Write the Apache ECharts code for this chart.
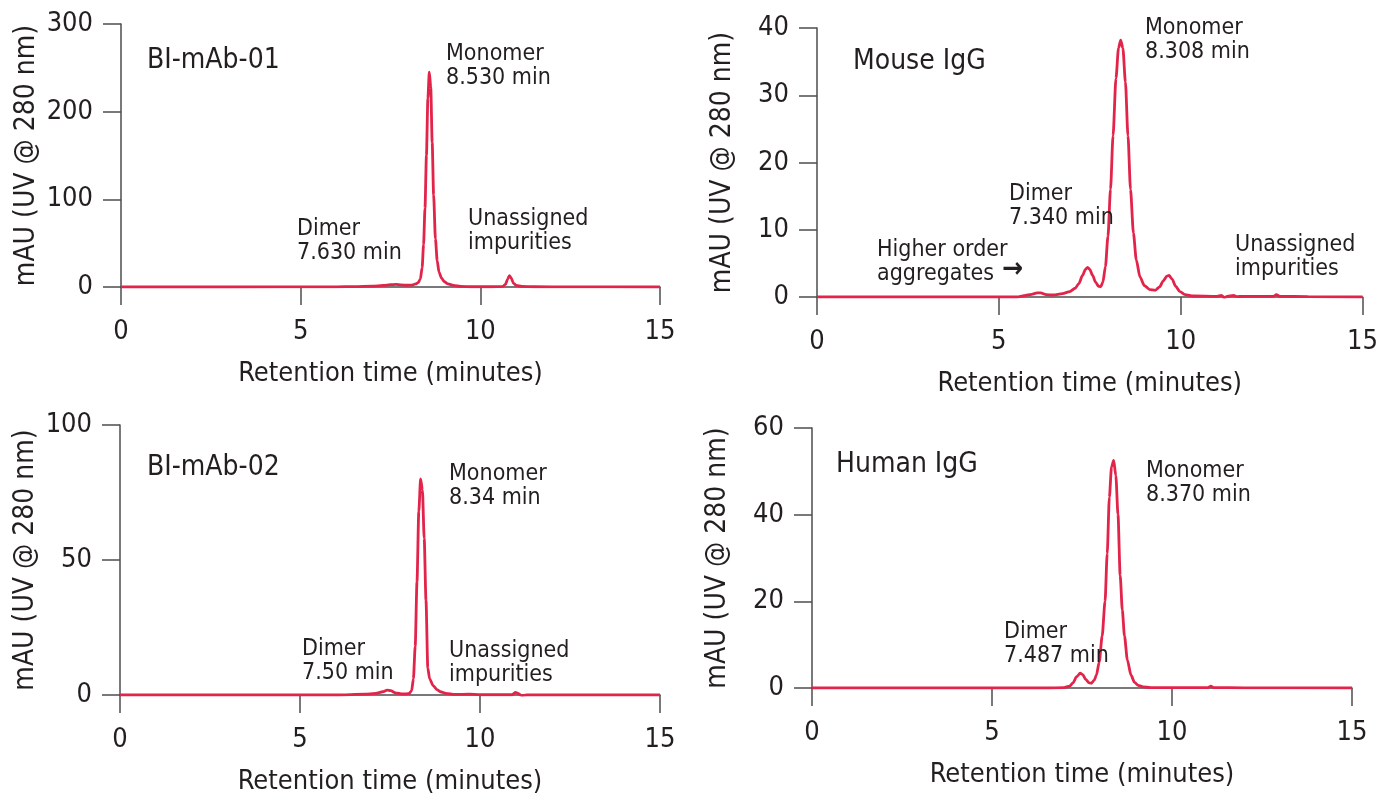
<!DOCTYPE html>
<html>
<head>
<meta charset="utf-8">
<script src="https://cdn.jsdelivr.net/npm/echarts@6/dist/echarts.min.js"></script>
<style>
html,body{margin:0;padding:0;background:#fff;}
#chart{width:1381px;height:796px;}
</style>
</head>
<body>
<div id="chart"></div>
<script>
// ---- Data ----
const xTicks = [0, 5, 10, 15];

// Panel A: BI-mAb-01
const mab01Time = [0, 3, 6, 6.5, 7.0, 7.3, 7.5, 7.65, 7.8, 7.95, 8.1, 8.2, 8.27, 8.33, 8.38, 8.42, 8.46, 8.5, 8.54, 8.58, 8.62, 8.66, 8.7, 8.75, 8.8, 8.85, 8.92, 9.0, 9.1, 9.25, 9.45, 9.8, 10.3, 10.62, 10.7, 10.76, 10.81, 10.86, 10.92, 11.0, 11.15, 11.5, 12.5, 15];
const mab01Signal = [0, 0, 0.2, 0.5, 1, 1.8, 2.6, 3, 2.5, 2, 2.2, 3.5, 5, 9, 22, 48, 90, 150, 215, 245, 228, 165, 105, 55, 30, 17, 10, 6, 3.5, 1.8, 0.7, 0.3, 0.3, 0.6, 3, 9, 13, 10, 4.5, 1.8, 0.6, 0.3, 0.1, 0];

// Panel B: Mouse IgG
const mouseTime = [0, 3, 5.5, 5.7, 5.9, 6.05, 6.15, 6.3, 6.5, 6.75, 6.95, 7.1, 7.2, 7.3, 7.38, 7.44, 7.5, 7.58, 7.66, 7.74, 7.8, 7.86, 7.93, 8.0, 8.07, 8.14, 8.22, 8.29, 8.35, 8.41, 8.48, 8.55, 8.62, 8.7, 8.78, 8.88, 9.0, 9.15, 9.3, 9.42, 9.52, 9.62, 9.68, 9.76, 9.86, 9.98, 10.12, 10.35, 11.0, 11.12, 11.2, 11.28, 11.45, 11.55, 11.7, 12.55, 12.63, 12.72, 13.5, 15];
const mouseSignal = [0, 0, 0, 0.2, 0.4, 0.6, 0.6, 0.35, 0.3, 0.5, 0.8, 1.3, 2.0, 3.2, 4.1, 4.4, 4.1, 3.2, 2.2, 1.6, 1.5, 2.2, 4.5, 9, 16, 24, 32.5, 37, 38.2, 37, 32, 24, 16, 9.5, 5.5, 3, 1.7, 1.1, 1.0, 1.5, 2.4, 3.1, 3.2, 2.7, 1.6, 0.8, 0.35, 0.15, 0.1, 0.25, -0.1, 0.1, 0.25, 0.05, 0.1, 0.1, 0.35, 0.1, 0.05, 0];

// Panel C: BI-mAb-02
const mab02Time = [0, 3, 6.0, 6.8, 7.1, 7.3, 7.42, 7.52, 7.65, 7.85, 8.02, 8.1, 8.15, 8.2, 8.25, 8.3, 8.35, 8.4, 8.45, 8.5, 8.55, 8.6, 8.7, 8.8, 8.9, 9.05, 9.3, 9.7, 10.0, 10.9, 10.98, 11.05, 11.15, 11.3, 12, 15];
const mab02Signal = [0, 0, 0, 0.3, 0.6, 1.2, 1.8, 1.6, 0.8, 0.4, 0.5, 1.5, 6, 18, 42, 68, 80, 76, 58, 35, 10, 6, 3.5, 2, 1.2, 0.6, 0.2, 0.3, 0.1, 0.1, 1.0, 0.6, -0.2, 0, 0, 0];

// Panel D: Human IgG
const humanTime = [0, 3, 6.5, 7.0, 7.15, 7.25, 7.35, 7.45, 7.52, 7.6, 7.7, 7.76, 7.84, 7.9, 7.98, 8.06, 8.14, 8.2, 8.26, 8.32, 8.38, 8.44, 8.5, 8.56, 8.62, 8.68, 8.76, 8.86, 8.96, 9.06, 9.2, 9.4, 10, 11.0, 11.08, 11.15, 12, 15];
const humanSignal = [0, 0, 0, 0.1, 0.4, 1.2, 2.6, 3.4, 3.1, 2.0, 1.2, 1.1, 1.8, 3, 6, 12, 20, 31, 44, 51, 52.5, 49, 40, 26, 18, 12, 6.5, 3, 1.3, 0.6, 0.25, 0.1, 0.1, 0.1, 0.45, 0.1, 0.05, 0];

// Axis scales
const yMax = [300, 40, 100, 60];
const yInterval = [100, 10, 50, 20];

// Texts
const panelTitles = ['BI-mAb-01', 'Mouse IgG', 'BI-mAb-02', 'Human IgG'];
const xAxisTitle = 'Retention time (minutes)';
const yAxisTitle = 'mAU (UV @ 280 nm)';
const notesA = [['Monomer', '8.530 min'], ['Dimer', '7.630 min'], ['Unassigned', 'impurities']];
const notesB = [['Monomer', '8.308 min'], ['Dimer', '7.340 min'], ['Higher order', 'aggregates'], ['Unassigned', 'impurities']];
const notesC = [['Monomer', '8.34 min'], ['Dimer', '7.50 min'], ['Unassigned', 'impurities']];
const notesD = [['Monomer', '8.370 min'], ['Dimer', '7.487 min']];

// ---- Layout / style ----
const FONT = "'DejaVu Sans Condensed', 'DejaVu Sans', sans-serif";
const TXT = '#231f20';
const AX = '#4d4d4d';
const RED = '#e2234a';

const grids = [
  {left: 121, top: 24, width: 539, height: 263},
  {left: 817, top: 28, width: 548, height: 269},
  {left: 120, top: 425, width: 540, height: 271},
  {left: 812, top: 428, width: 540, height: 260}
];

const zip = (t, v) => t.map((x, i) => [x, v[i]]);
const seriesData = [zip(mab01Time, mab01Signal), zip(mouseTime, mouseSignal), zip(mab02Time, mab02Signal), zip(humanTime, humanSignal)];

const xAxes = grids.map((g, i) => ({
  gridIndex: i, type: 'value', min: 0, max: 15, interval: 5,
  name: xAxisTitle, nameLocation: 'middle', nameGap: 73,
  nameTextStyle: {fontFamily: FONT, fontSize: 27, color: TXT},
  axisLine: {show: true, onZero: false, lineStyle: {color: AX, width: 1.5}},
  axisTick: {show: true, inside: false, length: 18, lineStyle: {color: AX, width: 1.5}},
  axisLabel: {fontFamily: FONT, fontSize: 27, color: TXT, margin: 31,
    formatter: v => xTicks.includes(v) ? String(v) : ''},
  splitLine: {show: false}
}));

const yAxes = grids.map((g, i) => ({
  gridIndex: i, type: 'value', min: 0, max: yMax[i], interval: yInterval[i],
  name: yAxisTitle, nameLocation: 'middle', nameGap: 80, nameRotate: 90,
  nameTextStyle: {fontFamily: FONT, fontSize: 28, color: TXT},
  axisLine: {show: true, onZero: false, lineStyle: {color: AX, width: 1.5}},
  axisTick: {show: true, inside: false, length: 18, lineStyle: {color: AX, width: 1.5}},
  axisLabel: {fontFamily: FONT, fontSize: 27, color: TXT, margin: 28},
  splitLine: {show: false}
}));

const series = seriesData.map((d, i) => ({
  type: 'line', xAxisIndex: i, yAxisIndex: i, data: d,
  showSymbol: false, smooth: 0.25, smoothMonotone: 'x',
  lineStyle: {color: RED, width: 2.8}, z: 5, silent: true
}));

function txt(text, x, y, size, weight) {
  return {type: 'text', x: x, y: y, z: 10, silent: true,
    style: {text: text, fill: TXT, font: (weight || 'normal') + ' ' + (size || 23) + 'px ' + FONT, align: 'left', verticalAlign: 'middle'}};
}
function two(pair, x, y) {
  return [txt(pair[0], x, y), txt(pair[1], x, y + 24)];
}

const graphics = [
  txt(panelTitles[0], 147, 61, 28),
  txt(panelTitles[1], 853, 62, 28),
  txt(panelTitles[2], 147, 468, 28),
  txt(panelTitles[3], 836, 465, 28),
  ...two(notesA[0], 446, 54), ...two(notesA[1], 297, 229), ...two(notesA[2], 468, 219),
  ...two(notesB[0], 1145, 28), ...two(notesB[1], 1009, 194), ...two(notesB[2], 877, 250), ...two(notesB[3], 1235, 245),
  txt('\u2192', 1002, 270, 28, 'bold'),
  ...two(notesC[0], 449, 474), ...two(notesC[1], 302, 649), ...two(notesC[2], 449, 651),
  ...two(notesD[0], 1146, 471), ...two(notesD[1], 1004, 632)
];

const chart = echarts.init(document.getElementById('chart'), null, {renderer: 'canvas'});
chart.setOption({
  animation: false,
  backgroundColor: '#ffffff',
  grid: grids,
  xAxis: xAxes,
  yAxis: yAxes,
  series: series,
  graphic: graphics
});
</script>
</body>
</html>
